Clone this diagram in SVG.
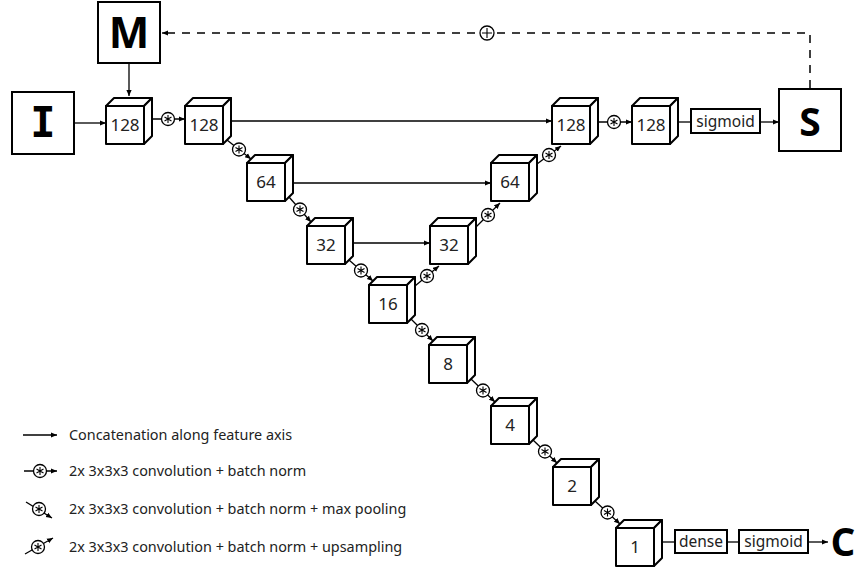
<svg xmlns="http://www.w3.org/2000/svg" width="856" height="569" viewBox="0 0 856 569">
<style>
.box{fill:#fff;stroke:#000;stroke-width:2}
.face{fill:#fff;stroke:#000;stroke-width:2;stroke-linejoin:round}
.ln{fill:none;stroke:#000;stroke-width:1.3}
.arr{fill:none;stroke:#000;stroke-width:1.3;marker-end:url(#ah)}
.dash{fill:none;stroke:#000;stroke-width:1.5;stroke-dasharray:8 7}
.num{font-family:"Noto Sans","Open Sans",sans-serif;font-size:17px;text-anchor:middle;fill:#222}
.lbl{font-family:"Noto Sans","Open Sans",sans-serif;font-size:15.5px;text-anchor:middle;fill:#222}
.big{font-family:"Open Sans","Noto Sans",sans-serif;font-weight:bold;text-anchor:middle;fill:#000}
.leg{font-family:"Noto Sans","Open Sans",sans-serif;font-size:14.4px;fill:#222}
.cc{fill:#fff;stroke:#000;stroke-width:1.3}
.ast{stroke:#000;stroke-width:1.1;fill:none}
</style>
<defs>
<marker id="ah" markerUnits="userSpaceOnUse" markerWidth="7" markerHeight="7" refX="6" refY="3" orient="auto">
<path d="M0,0.4 L6,3 L0,5.6 z" fill="#000"/>
</marker>
<g id="conv">
<circle class="cc" cx="0" cy="0" r="6.5"/>
<path class="ast" d="M0,-4 V4 M-3.5,-2 L3.5,2 M-3.5,2 L3.5,-2"/>
</g>
<g id="cube">
<rect class="face" x="0" y="0" width="38" height="38"/>
<polygon class="face" points="0,0 8,-8 46,-8 38,0"/>
<polygon class="face" points="38,0 46,-8 46,30 38,38"/>
</g>
</defs>

<g id="connectors">
<line class="arr" x1="129" y1="63" x2="129" y2="96"/>
<line class="arr" x1="74" y1="123" x2="106" y2="123"/>
<line class="arr" x1="152" y1="119" x2="185" y2="119"/>
<line class="arr" x1="231" y1="121" x2="552" y2="121"/>
<line class="arr" x1="293" y1="183" x2="491" y2="183"/>
<line class="arr" x1="353" y1="243" x2="430" y2="243"/>
<line class="arr" x1="227" y1="140" x2="251" y2="159"/>
<line class="arr" x1="289" y1="197" x2="311" y2="222"/>
<line class="arr" x1="349" y1="260" x2="373" y2="281"/>
<line class="arr" x1="411" y1="319" x2="433" y2="341"/>
<line class="arr" x1="471" y1="379" x2="495" y2="402"/>
<line class="arr" x1="533" y1="440" x2="557" y2="463"/>
<line class="arr" x1="595" y1="501" x2="620" y2="524"/>
<line class="arr" x1="415" y1="286" x2="439" y2="266"/>
<line class="arr" x1="476" y1="227" x2="500" y2="203"/>
<line class="arr" x1="537" y1="164" x2="561" y2="146"/>
<line class="arr" x1="598" y1="122" x2="632" y2="122"/>
<line class="ln" x1="678" y1="122" x2="691" y2="122"/>
<line class="arr" x1="760" y1="122" x2="779" y2="122"/>
<line class="ln" x1="662" y1="542" x2="675" y2="542"/>
<line class="ln" x1="727" y1="542" x2="739" y2="542"/>
<line class="arr" x1="808" y1="542" x2="828" y2="542"/>
<polyline class="dash" points="810,88 810,33 168,33"/>
<line class="arr" x1="168" y1="33" x2="162" y2="33"/>
<use href="#conv" x="168" y="119"/>
<use href="#conv" x="239" y="149.5"/>
<use href="#conv" x="300" y="209.5"/>
<use href="#conv" x="361" y="270.5"/>
<use href="#conv" x="422" y="330"/>
<use href="#conv" x="483" y="390.5"/>
<use href="#conv" x="545" y="451.5"/>
<use href="#conv" x="607.5" y="512.5"/>
<use href="#conv" x="427" y="276"/>
<use href="#conv" x="488" y="215"/>
<use href="#conv" x="549" y="155"/>
<use href="#conv" x="614" y="122"/>
<g id="plus">
<circle class="cc" cx="487" cy="33" r="7" stroke-width="1.7"/>
<path class="ast" stroke-width="1.5" d="M487,28 V38 M482,33 H492"/>
</g>
</g>

<g id="M"><rect class="box" x="98" y="2" width="62" height="61"/><text class="big" x="129" y="48" font-size="43">M</text></g>
<g id="I"><rect class="box" x="12" y="92" width="62" height="62"/><text x="43" y="137" font-family="'DejaVu Sans Mono','Liberation Mono',monospace" font-weight="bold" font-size="42" text-anchor="middle">I</text></g>
<g id="S"><rect class="box" x="779" y="89" width="62" height="62"/><text class="big" x="810" y="136" font-size="39">S</text></g>
<g id="C"><text class="big" x="843" y="556" font-size="39">C</text></g>

<g id="c1"><use href="#cube" x="106" y="106"/><text class="num" x="125" y="131">128</text></g>
<g id="c2"><use href="#cube" x="185" y="106"/><text class="num" x="204" y="131">128</text></g>
<g id="c3"><use href="#cube" x="247" y="163"/><text class="num" x="266" y="188">64</text></g>
<g id="c4"><use href="#cube" x="307" y="226"/><text class="num" x="326" y="251">32</text></g>
<g id="c5"><use href="#cube" x="369" y="285"/><text class="num" x="388" y="310">16</text></g>
<g id="c6"><use href="#cube" x="429" y="345"/><text class="num" x="448" y="370">8</text></g>
<g id="c7"><use href="#cube" x="491" y="406"/><text class="num" x="510" y="431">4</text></g>
<g id="c8"><use href="#cube" x="553" y="467"/><text class="num" x="572" y="492">2</text></g>
<g id="c9"><use href="#cube" x="616" y="528"/><text class="num" x="635" y="553">1</text></g>
<g id="u1"><use href="#cube" x="430" y="226"/><text class="num" x="449" y="251">32</text></g>
<g id="u2"><use href="#cube" x="491" y="163"/><text class="num" x="510" y="188">64</text></g>
<g id="u3"><use href="#cube" x="552" y="106"/><text class="num" x="571" y="131">128</text></g>
<g id="f"><use href="#cube" x="632" y="106"/><text class="num" x="651" y="131">128</text></g>

<g id="sig1"><rect class="box" x="691" y="109" width="69" height="24"/><text class="lbl" x="725.5" y="126.5">sigmoid</text></g>
<g id="dense"><rect class="box" x="675" y="530" width="52" height="23"/><text class="lbl" x="701" y="547">dense</text></g>
<g id="sig2"><rect class="box" x="739" y="530" width="69" height="23"/><text class="lbl" x="773.5" y="547">sigmoid</text></g>

<g id="legend">
<line class="arr" x1="23" y1="435" x2="57" y2="435"/>
<text class="leg" x="69" y="440">Concatenation along feature axis</text>
<line class="arr" x1="24" y1="471" x2="57" y2="471"/>
<use href="#conv" x="40" y="471"/>
<text class="leg" x="69" y="476">2x 3x3x3 convolution + batch norm</text>
<line class="arr" x1="26" y1="502" x2="52" y2="518"/>
<use href="#conv" x="39" y="509"/>
<text class="leg" x="69" y="514">2x 3x3x3 convolution + batch norm + max pooling</text>
<line class="arr" x1="25" y1="554" x2="53" y2="538"/>
<use href="#conv" x="38" y="547"/>
<text class="leg" x="69" y="552">2x 3x3x3 convolution + batch norm + upsampling</text>
</g>
</svg>
